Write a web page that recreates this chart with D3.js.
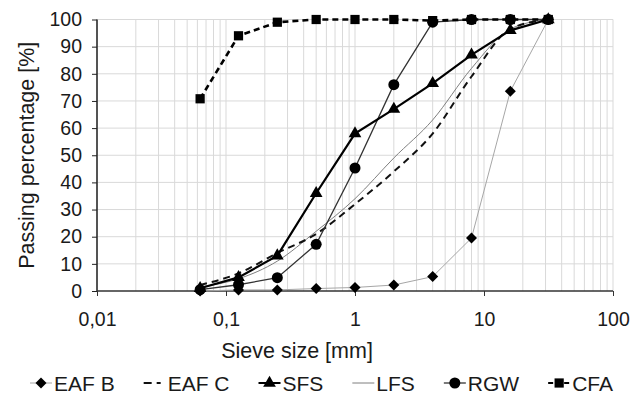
<!DOCTYPE html>
<html><head><meta charset="utf-8">
<script src="https://cdn.jsdelivr.net/npm/d3@7"></script>
<style>body{margin:0;background:#fff}svg text{font-family:"Liberation Sans",Arial,sans-serif;fill:#1a1a1a}</style>
</head><body><svg id="c" width="644" height="395"></svg>
<script>
const sizes = [0.063,0.125,0.25,0.5,1,2,4,8,16,31.5];
const eafB = [0,0.4,0.4,0.9,1.3,2.2,5.3,19.5,73.6,100];
const eafC = [2.2,6.5,14,21,32,44,58,79,96.5,100];
const sfs  = [1,5,13,36,58,67,76.5,87,96,100];
const lfs  = [1.5,4.5,11,22,34,49,63,82,96.5,100];
const rgw  = [0.5,2.3,4.9,17.2,45.3,76,99,100,100,100];
const cfa  = [70.8,94,99,100,100,100,99.6,100,100,100];
const seriesNames = ["EAF B","EAF C","SFS","LFS","RGW","CFA"];
const xTicks = [0.01,0.1,1,10,100];
const xTickLabels = ["0,01","0,1","1","10","100"];
const yTicks = [0,10,20,30,40,50,60,70,80,90,100];

const svg = d3.select("#c");
const x = d3.scaleLog().domain([0.01,100]).range([97,613]);
const y = d3.scaleLinear().domain([0,100]).range([291,19.5]);

const styles = {
  "EAF B":{vals:eafB,stroke:"#a6a6a6",w:1,dash:null,marker:"diamond",curve:d3.curveLinear},
  "EAF C":{vals:eafC,stroke:"#111",w:2,dash:"7,5",marker:null,curve:d3.curveMonotoneX},
  "SFS":{vals:sfs,stroke:"#000",w:2.2,dash:null,marker:"triangle",curve:d3.curveLinear},
  "LFS":{vals:lfs,stroke:"#7f7f7f",w:1,dash:null,marker:null,curve:d3.curveMonotoneX},
  "RGW":{vals:rgw,stroke:"#333",w:1.3,dash:null,marker:"circle",curve:d3.curveLinear},
  "CFA":{vals:cfa,stroke:"#000",w:2.6,dash:"6,4",marker:"square",curve:d3.curveLinear}
};
const symSize = {triangle:70,circle:95,square:85};
const symType = {triangle:d3.symbolTriangle,circle:d3.symbolCircle,square:d3.symbolSquare};
function markerPath(m){
  if(m==="diamond"){const s=5.5;return `M0,${-s}L${s},0L0,${s}L${-s},0Z`;}
  return d3.symbol(symType[m], symSize[m])();
}

// grid
const grid = svg.append("g").attr("stroke","#d9d9d9").attr("stroke-width",1);
const minor = [];
for(let e=-2;e<2;e++){for(let k=2;k<=9;k++)minor.push(k*Math.pow(10,e));}
grid.selectAll(".mn").data(minor).join("line")
  .attr("x1",d=>x(d)).attr("x2",d=>x(d)).attr("y1",y(0)).attr("y2",y(100));
grid.selectAll(".mj").data(xTicks).join("line")
  .attr("x1",d=>x(d)).attr("x2",d=>x(d)).attr("y1",y(0)).attr("y2",y(100));
grid.selectAll(".h").data(yTicks.slice(1)).join("line")
  .attr("x1",x(0.01)).attr("x2",x(100)).attr("y1",d=>y(d)).attr("y2",d=>y(d));

// axes
const ya = svg.append("g").attr("transform",`translate(${x(0.01)},0)`)
  .call(d3.axisLeft(y).tickValues(yTicks).tickSize(5).tickPadding(10));
ya.select(".domain").attr("stroke","#222").attr("stroke-width",1.5).attr("d",`M0,${y(0)}V${y(100)}`);
ya.selectAll(".tick line").attr("stroke","#222");
ya.selectAll("text").style("font-size","19.5px").style("font-family","Liberation Sans, Arial").attr("fill","#1a1a1a");

const xa = svg.append("g").attr("transform",`translate(0,${y(0)})`)
  .call(d3.axisBottom(x).tickValues(xTicks).tickFormat((d,i)=>xTickLabels[i]).tickSize(5).tickPadding(16));
xa.select(".domain").attr("stroke","#333").attr("stroke-width",1.5).attr("d",`M${x(0.01)},0H${x(100)}`);
xa.selectAll(".tick line").attr("stroke","#333");
xa.selectAll("text").style("font-size","19.5px").style("font-family","Liberation Sans, Arial").attr("fill","#1a1a1a");

svg.append("text").attr("x",297).attr("y",358).attr("text-anchor","middle").style("font-size","21.5px").text("Sieve size [mm]");
svg.append("text").attr("transform",`translate(34,${(y(0)+y(100))/2}) rotate(-90)`).attr("text-anchor","middle").style("font-size","21.5px").text("Passing percentage [%]");

// series
const order = ["LFS","EAF B","EAF C","RGW","SFS","CFA"];
order.forEach(n=>{
  const s = styles[n];
  const pts = sizes.map((sz,i)=>({sz,v:s.vals[i]}));
  const line = d3.line().x(d=>x(d.sz)).y(d=>y(d.v)).curve(s.curve);
  svg.append("path").datum(pts).attr("d",line).attr("fill","none")
    .attr("stroke",s.stroke).attr("stroke-width",s.w).attr("stroke-dasharray",s.dash);
  if(s.marker){
    svg.append("g").selectAll("path").data(pts).join("path")
      .attr("d",markerPath(s.marker))
      .attr("transform",d=>`translate(${x(d.sz)},${y(d.v)})`).attr("fill","#000");
  }
});

// legend
const lg = svg.append("g");
const ly = 383, lineLen = 22, txtGap = 2, left = 30, right = 613;
const items = seriesNames.map(n=>{
  const s = styles[n];
  const g = lg.append("g");
  g.append("line").attr("x1",0).attr("x2",lineLen).attr("y1",ly).attr("y2",ly)
    .attr("stroke",s.stroke).attr("stroke-width",Math.min(s.w,2))
    .attr("stroke-dasharray",s.dash? (n==="EAF C"?"8,5,4,20":"5,3"):null);
  if(s.marker) g.append("path").attr("d",markerPath(s.marker)).attr("transform",`translate(${lineLen/2},${ly})`).attr("fill","#000");
  const t = g.append("text").attr("x",lineLen+txtGap).attr("y",ly+7.5).style("font-size","21px").text(n);
  return {g,w:lineLen+txtGap+t.node().getComputedTextLength()};
});
const total = d3.sum(items,d=>d.w);
const gap = (right-left-total)/(items.length-1);
let lx = left;
items.forEach(it=>{it.g.attr("transform",`translate(${lx},0)`);lx+=it.w+gap;});
</script></body></html>
